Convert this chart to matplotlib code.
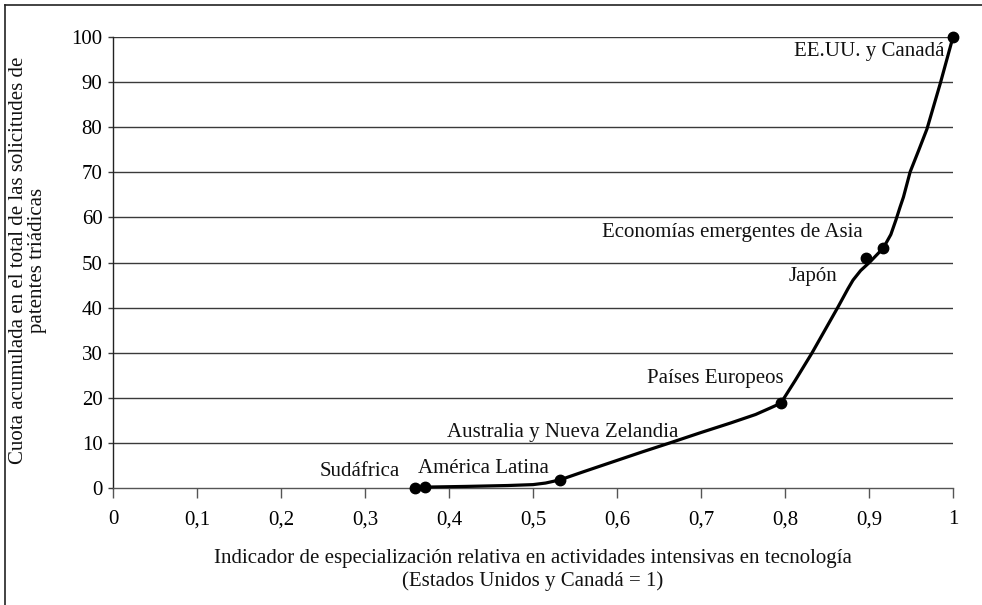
import matplotlib
matplotlib.use("Agg")
import matplotlib.pyplot as plt
from matplotlib.lines import Line2D

plt.rcParams['font.family'] = ['Liberation Serif', 'DejaVu Serif']

# Marked regions
regions = ["Sudáfrica", "América Latina", "Australia y Nueva Zelandia",
           "Países Europeos", "Japón", "Economías emergentes de Asia",
           "EE.UU. y Canadá"]
region_x = [0.359, 0.372, 0.532, 0.795, 0.897, 0.917, 1.0]
region_y = [0.1, 0.2, 1.8, 18.8, 51.0, 53.2, 100.0]

# Label anchor positions (data coords) and alignment
label_x = [0.341, 0.363, 0.398, 0.798, 0.862, 0.893, 0.990]
label_y = [3.6, 4.3, 12.3, 24.3, 46.8, 56.6, 96.7]
label_ha = ["right", "left", "left", "right", "right", "right", "right"]

# Smoothed curve
curve_x = [0.372, 0.42, 0.47, 0.50, 0.515, 0.532, 0.56, 0.595, 0.63, 0.663,
           0.70, 0.735, 0.765, 0.782, 0.795, 0.812, 0.832, 0.863, 0.875,
           0.881, 0.890, 0.901, 0.917, 0.926, 0.932, 0.937, 0.941, 0.949,
           0.959, 0.969, 0.985, 1.0]
curve_y = [0.2, 0.35, 0.55, 0.75, 1.1, 1.8, 3.6, 5.8, 8.0, 10.0, 12.3, 14.4,
           16.3, 17.7, 18.8, 23.8, 29.9, 40.1, 44.2, 46.1, 48.2, 50.1, 53.2,
           56.2, 59.4, 62.3, 64.5, 70.1, 74.8, 79.6, 89.8, 100.0]

xticks = [0, 0.1, 0.2, 0.3, 0.4, 0.5, 0.6, 0.7, 0.8, 0.9, 1.0]
xtick_labels = ["0", "0,1", "0,2", "0,3", "0,4", "0,5", "0,6", "0,7", "0,8", "0,9", "1"]
yticks = [0, 10, 20, 30, 40, 50, 60, 70, 80, 90, 100]

xlabel = ("Indicador de especialización relativa en actividades intensivas en tecnología\n"
          "(Estados Unidos y Canadá = 1)")
ylabel = ("Cuota acumulada en el total de las solicitudes de\n"
          "patentes triádicas")

FS = 15
W, H = 982, 605
fig = plt.figure(figsize=(W / 100, H / 100), dpi=100)
ax = fig.add_axes([113 / W, (H - 488) / H, 840 / W, 451 / H])

ax.set_xlim(0, 1)
ax.set_ylim(0, 100)
ax.set_xticks(xticks)
ax.set_xticklabels(xtick_labels)
ax.set_yticks(yticks)
ax.set_yticklabels([str(v) for v in yticks])

for v in yticks[1:]:
    ax.axhline(v, color="#3a3a3a", lw=1.0, zorder=1)

for s in ["top", "right"]:
    ax.spines[s].set_visible(False)
ax.spines["left"].set_color("#222222")
ax.spines["bottom"].set_color("#555555")
ax.spines["left"].set_linewidth(1.0)
ax.spines["bottom"].set_linewidth(1.0)

ax.tick_params(axis="x", direction="out", length=7.2, width=1.0, color="#555555",
               pad=9, labelsize=FS)
ax.tick_params(axis="y", direction="out", length=3.6, width=1.0, color="#3a3a3a",
               pad=4, labelsize=FS)

ax.plot(curve_x, curve_y, color="black", lw=2.3, solid_joinstyle="round",
        solid_capstyle="round", zorder=3, clip_on=False)
ax.plot(region_x, region_y, linestyle="none", marker="o", markersize=7.5,
        color="black", zorder=4, clip_on=False)

for name, lx, ly, ha in zip(regions, label_x, label_y, label_ha):
    ax.text(lx, ly, name, ha=ha, va="center", fontsize=FS, color="#111111")

fig.text(533 / W, 1 - 570 / H, xlabel, ha="center", va="center",
         fontsize=FS, linespacing=1.25, color="#111111")
fig.text(28 / W, 1 - 260 / H, ylabel, ha="center", va="center", rotation=90,
         fontsize=FS, linespacing=1.05, color="#111111", multialignment="center")

# Frame (left and top edges visible)
fig.add_artist(Line2D([5 / W, 5 / W], [0, 1 - 5 / H], transform=fig.transFigure,
                      color="#222222", lw=1.2))
fig.add_artist(Line2D([5 / W, 1], [1 - 5 / H, 1 - 5 / H], transform=fig.transFigure,
                      color="#222222", lw=1.2))

fig.savefig("out.png", dpi=100)
